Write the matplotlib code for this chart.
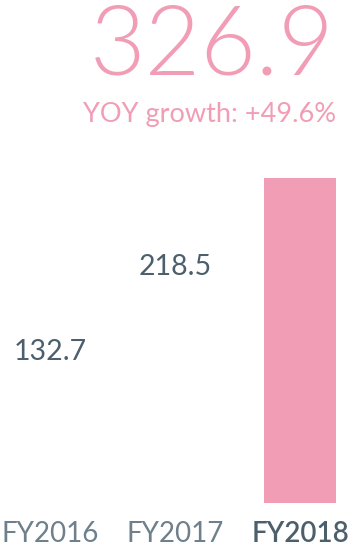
import matplotlib.pyplot as plt
from matplotlib import font_manager as fm

# data
years = ['FY2016', 'FY2017', 'FY2018']
revenue = [132.7, 218.5, 326.9]
growth = '+49.6%'

pink = '#f29db6'
slate = '#4c5f6c'
light_slate = '#6e808c'

plt.rcParams['font.family'] = ['Lato', 'DejaVu Sans']

# look for a real light (300) face, the hairline one is too thin
light_font = None
for fam in ['Lato', 'Roboto', 'Open Sans', 'Noto Sans']:
    for f in fm.fontManager.ttflist:
        if f.name == fam and f.weight == 300 and f.style == 'normal':
            light_font = fm.FontProperties(fname=f.fname)
            break
    if light_font is not None:
        break
if light_font is None:
    light_font = fm.FontProperties(family='Lato', weight='normal')

fig = plt.figure(figsize=(3.54, 5.51), dpi=100)
# axes spans full width, baseline 48 px above the bottom
ax = fig.add_axes([0, 48 / 551, 1, 503 / 551])
ax.set_xlim(-0.4, -0.4 + 354 / 125)
ax.set_ylim(0, 503 / 0.994)

x = list(range(len(years)))
bar_colors = ['white', 'white', pink]
ax.bar(x, revenue, width=0.576, color=bar_colors)

# value labels over the first two bars
for xi, v in zip(x[:2], revenue[:2]):
    ax.annotate(f'{v:.1f}', (xi, v), xytext=(0, 8), textcoords='offset points',
                ha='center', va='baseline', fontsize=20.5, color=slate)

# headline number and growth for the latest year
big = light_font.copy()
big.set_size(69)
fig.text(334 / 354, 1 - 75 / 551, f'{revenue[-1]:.1f}', ha='right', va='baseline',
         fontproperties=big, color=pink)
fig.text(336 / 354, 1 - 122 / 551, f'YOY growth: {growth}', ha='right', va='baseline',
         fontsize=19.5, color=pink)

ax.set_xticks(x)
ax.set_xticklabels(years, fontsize=20)
ax.tick_params(axis='x', length=0, pad=13)
for lbl, c, w in zip(ax.get_xticklabels(), [light_slate, light_slate, slate],
                     ['normal', 'normal', 'semibold']):
    lbl.set_color(c)
    lbl.set_fontweight(w)
ax.set_yticks([])
for s in ax.spines.values():
    s.set_visible(False)

fig.savefig('out.png', dpi=100)
